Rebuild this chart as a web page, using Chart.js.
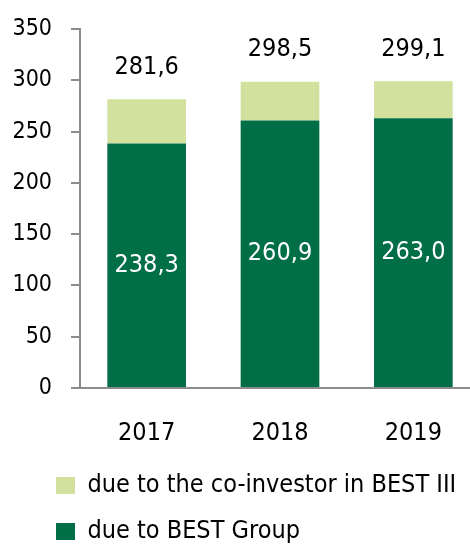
<!DOCTYPE html>
<html>
<head>
<meta charset="utf-8">
<script src="https://cdn.jsdelivr.net/npm/chart.js@4"></script>
<style>
    html, body { margin: 0; padding: 0; background: #fff; overflow: hidden; }
    #wrap { position: relative; width: 490px; height: 547px; }
</style>
</head>
<body>
<div id="wrap"><canvas id="chart"></canvas></div>
<script>
const years = ['2017', '2018', '2019'];
const bestGroup = [238.3, 260.9, 263.0];
const coInvestor = [43.3, 37.6, 36.1];
const totals = [281.6, 298.5, 299.1];
const yMin = 0;
const yMax = 350;
const yStep = 50;

const FONT = "'Liberation Sans Narrow', 'DejaVu Sans Condensed', 'Roboto Condensed', sans-serif";
const DARK = '#006e46';
const LIGHT = '#d3e19f';
const AXIS = '#8c8c8c';

function fmt(v) {
    return v.toFixed(1).replace('.', ',');
}

// etykiety wartosci na slupkach
const valueLabels = {
    id: 'valueLabels',
    afterDatasetsDraw(chart) {
        const ctx = chart.ctx;
        ctx.save();
        ctx.textAlign = 'center';
        ctx.textBaseline = 'middle';
        ctx.font = '25px ' + FONT;

        chart.getDatasetMeta(0).data.forEach((bar, i) => {
            ctx.fillStyle = '#fff';
            ctx.fillText(fmt(bestGroup[i]), bar.x, (bar.y + bar.base) / 2);
        });

        chart.getDatasetMeta(1).data.forEach((bar, i) => {
            ctx.fillStyle = '#000';
            ctx.fillText(fmt(totals[i]), bar.x, bar.y - 32);
        });
        ctx.restore();
    }
};

// legenda troche w prawo
const legendShift = {
    id: 'legendShift',
    afterLayout(chart) {
        chart.legend.left += 23;
    }
};

const ctx = document.getElementById('chart').getContext('2d');

new Chart(ctx, {
    type: 'bar',
    data: {
        labels: years,
        datasets: [
            {
                label: 'due to BEST Group',
                data: bestGroup,
                backgroundColor: DARK
            },
            {
                label: 'due to the co-investor in BEST III',
                data: coInvestor,
                backgroundColor: LIGHT
            }
        ]
    },
    options: {
        responsive: true,
        maintainAspectRatio: false,
        animation: false,
        layout: {
            padding: { left: 12, right: 10, top: 29, bottom: -7 }
        },
        datasets: {
            bar: { categoryPercentage: 1, barPercentage: 0.59 }
        },
        scales: {
            x: {
                stacked: true,
                afterFit(scale) { scale.height = 64; },
                grid: { display: false },
                border: { color: AXIS, width: 2 },
                ticks: {
                    color: '#000',
                    padding: 22,
                    font: { family: FONT, size: 25 }
                }
            },
            y: {
                stacked: true,
                min: yMin,
                max: yMax,
                afterFit(scale) {
                    scale.width = 68;
                    scale.paddingTop = 0;
                },
                border: { color: AXIS, width: 2 },
                grid: {
                    drawOnChartArea: false,
                    tickLength: 9,
                    color: AXIS,
                    lineWidth: 2
                },
                ticks: {
                    stepSize: yStep,
                    color: '#000',
                    padding: 19,
                    font: { family: FONT, size: 23 }
                }
            }
        },
        plugins: {
            tooltip: { enabled: false },
            legend: {
                position: 'bottom',
                align: 'start',
                reverse: true,
                labels: {
                    boxWidth: 19,
                    boxHeight: 17,
                    padding: 21,
                    color: '#000',
                    font: { family: FONT, size: 25 }
                }
            }
        }
    },
    plugins: [valueLabels, legendShift]
});
</script>
</body>
</html>
